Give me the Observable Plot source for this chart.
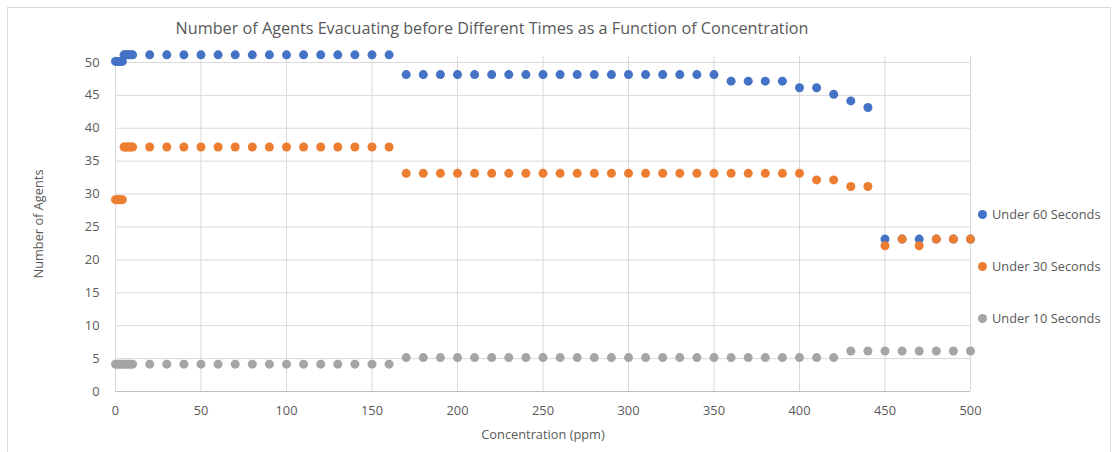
<!DOCTYPE html>
<html>
<head>
<meta charset="utf-8">
<script src="https://cdn.jsdelivr.net/npm/d3@7"></script>
<script src="https://cdn.jsdelivr.net/npm/@observablehq/plot@0.6"></script>
<style>
  html, body { margin: 0; padding: 0; background: #fff; }
  #wrap { position: relative; width: 1119px; height: 452px; overflow: hidden; font-family: "Open Sans", sans-serif; color: #595959; }
  #frame { position: absolute; left: 7px; top: 7px; width: 1104px; height: 460px; border: 1px solid #d9d9d9; box-sizing: border-box; }
  #title { position: absolute; left: 0; top: 17px; width: 984px; text-align: center; font-size: 16.2px; }
  #chart { position: absolute; left: 0; top: 0; }
  #legend { position: absolute; left: 978px; top: 0; font-size: 12.8px; }
  .item { position: absolute; left: 0; white-space: nowrap; display: flex; align-items: center; }
  .sw { width: 9px; height: 9px; border-radius: 50%; margin-right: 5px; }
</style>
</head>
<body>
<div id="wrap">
  <div id="frame"></div>
  <div id="title"></div>
  <div id="chart"></div>
  <div id="legend"></div>
</div>
<script>
// Concentration levels (ppm) at which the evacuation was simulated
const concentration = [0, 1, 2, 3, 4, 5, 6, 7, 8, 9, 10,
  20, 30, 40, 50, 60, 70, 80, 90, 100, 110, 120, 130, 140, 150, 160,
  170, 180, 190, 200, 210, 220, 230, 240, 250, 260, 270, 280, 290, 300,
  310, 320, 330, 340, 350, 360, 370, 380, 390, 400, 410, 420, 430, 440,
  450, 460, 470, 480, 490, 500];

// Agents evacuated before each time limit
const under60 = [50, 50, 50, 50, 50, 51, 51, 51, 51, 51, 51,
  51, 51, 51, 51, 51, 51, 51, 51, 51, 51, 51, 51, 51, 51, 51,
  48, 48, 48, 48, 48, 48, 48, 48, 48, 48, 48, 48, 48, 48,
  48, 48, 48, 48, 48, 47, 47, 47, 47, 46, 46, 45, 44, 43,
  23, 23, 23, 23, 23, 23];
const under30 = [29, 29, 29, 29, 29, 37, 37, 37, 37, 37, 37,
  37, 37, 37, 37, 37, 37, 37, 37, 37, 37, 37, 37, 37, 37, 37,
  33, 33, 33, 33, 33, 33, 33, 33, 33, 33, 33, 33, 33, 33,
  33, 33, 33, 33, 33, 33, 33, 33, 33, 33, 32, 32, 31, 31,
  22, 23, 22, 23, 23, 23];
const under10 = [4, 4, 4, 4, 4, 4, 4, 4, 4, 4, 4,
  4, 4, 4, 4, 4, 4, 4, 4, 4, 4, 4, 4, 4, 4, 4,
  5, 5, 5, 5, 5, 5, 5, 5, 5, 5, 5, 5, 5, 5,
  5, 5, 5, 5, 5, 5, 5, 5, 5, 5, 5, 5, 6, 6,
  6, 6, 6, 6, 6, 6];

const seriesNames = ["Under 60 Seconds", "Under 30 Seconds", "Under 10 Seconds"];
const seriesColors = ["#4472C4", "#ED7D31", "#A5A5A5"];
const xTicks = [0, 50, 100, 150, 200, 250, 300, 350, 400, 450, 500];
const yTicks = [0, 5, 10, 15, 20, 25, 30, 35, 40, 45, 50];

const titleText = "Number of Agents Evacuating before Different Times as a Function of Concentration";
const xLabel = "Concentration (ppm)";
const yLabel = "Number of Agents";

// Long-format table, series in drawing order (later series on top)
const seriesValues = [under60, under30, under10];
const rows = [];
seriesValues.forEach((vals, s) => {
  vals.forEach((v, i) => rows.push({series: seriesNames[s], x: concentration[i], y: v}));
});

document.getElementById("title").textContent = titleText;

const chart = Plot.plot({
  width: 1119,
  height: 452,
  marginLeft: 115,
  marginRight: 149,
  marginTop: 56,
  marginBottom: 61,
  style: {fontFamily: "Open Sans, sans-serif", fontSize: "12.8px", color: "#595959", background: "transparent", overflow: "visible"},
  x: {domain: [0, 500]},
  y: {domain: [0, 50.9]},
  color: {domain: seriesNames, range: seriesColors},
  marks: [
    Plot.gridY(yTicks.filter(d => d > 0), {stroke: "#d9d9d9", strokeOpacity: 1}),
    Plot.gridX(xTicks, {stroke: "#d9d9d9", strokeOpacity: 1}),
    Plot.ruleY([0], {stroke: "#bfbfbf"}),
    Plot.axisX(xTicks, {tickSize: 0, tickPadding: 14, label: xLabel, labelAnchor: "center", labelArrow: "none", labelOffset: 47, fill: "#595959"}),
    Plot.axisY(yTicks, {tickSize: 0, tickPadding: 16, label: yLabel, labelAnchor: "center", labelArrow: "none", labelOffset: 82, fill: "#595959"}),
    Plot.dot(rows, {x: "x", y: "y", fill: "series", r: 4.5, stroke: "none", dy: -1})
  ]
});
document.getElementById("chart").appendChild(chart);

// Legend on the right
const legend = document.getElementById("legend");
const legendTops = [205, 257, 309];
seriesNames.forEach((name, i) => {
  const item = document.createElement("div");
  item.className = "item";
  item.style.top = legendTops[i] + "px";
  const sw = document.createElement("span");
  sw.className = "sw";
  sw.style.background = seriesColors[i];
  const label = document.createElement("span");
  label.textContent = name;
  item.appendChild(sw);
  item.appendChild(label);
  legend.appendChild(item);
});
</script>
</body>
</html>
